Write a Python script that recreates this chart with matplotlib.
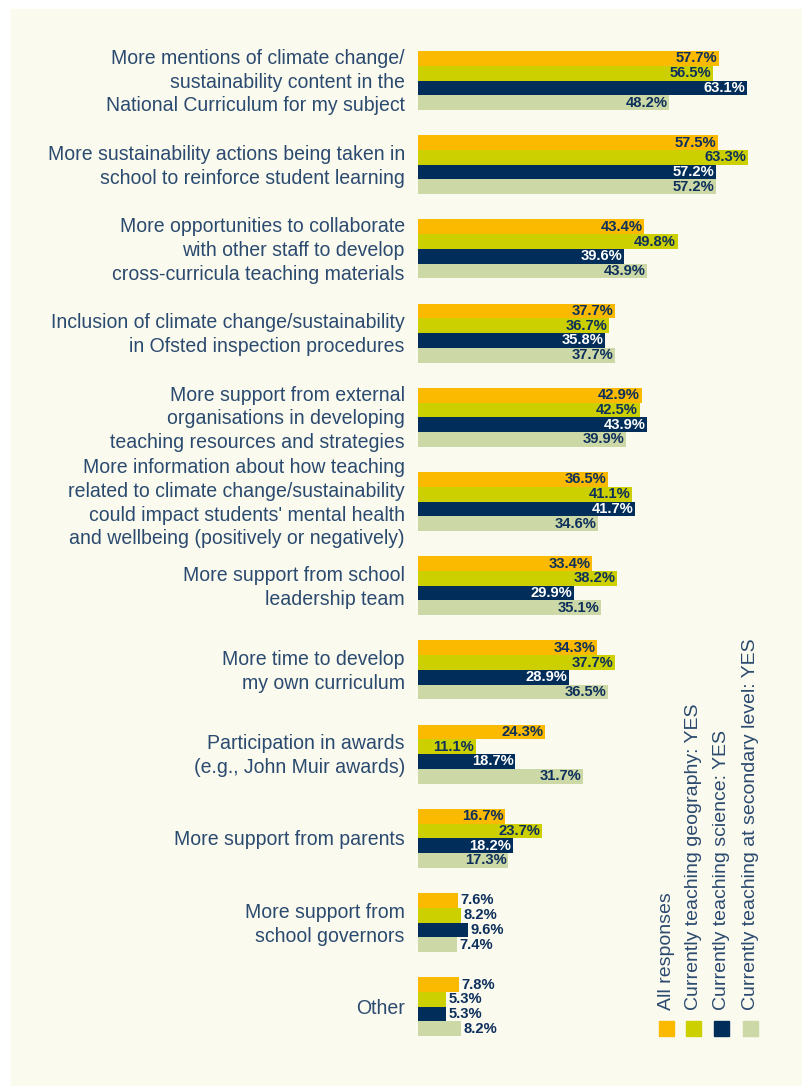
import matplotlib.pyplot as plt
from matplotlib.patches import Rectangle

categories = [
    'More mentions of climate change/\nsustainability content in the\nNational Curriculum for my subject',
    'More sustainability actions being taken in\nschool to reinforce student learning',
    'More opportunities to collaborate\nwith other staff to develop\ncross-curricula teaching materials',
    'Inclusion of climate change/sustainability\nin Ofsted inspection procedures',
    'More support from external\norganisations in developing\nteaching resources and strategies',
    'More information about how teaching\nrelated to climate change/sustainability\ncould impact students\' mental health\nand wellbeing (positively or negatively)',
    'More support from school\nleadership team',
    'More time to develop\nmy own curriculum',
    'Participation in awards\n(e.g., John Muir awards)',
    'More support from parents',
    'More support from\nschool governors',
    'Other',
]

series_names = [
    'All responses',
    'Currently teaching geography: YES',
    'Currently teaching science: YES',
    'Currently teaching at secondary level: YES',
]

all_responses = [57.7, 57.5, 43.4, 37.7, 42.9, 36.5, 33.4, 34.3, 24.3, 16.7, 7.6, 7.8]
geography = [56.5, 63.3, 49.8, 36.7, 42.5, 41.1, 38.2, 37.7, 11.1, 23.7, 8.2, 5.3]
science = [63.1, 57.2, 39.6, 35.8, 43.9, 41.7, 29.9, 28.9, 18.7, 18.2, 9.6, 5.3]
secondary = [48.2, 57.2, 43.9, 37.7, 39.9, 34.6, 35.1, 36.5, 31.7, 17.3, 7.4, 8.2]

colors = ['#fbba00', '#ccd000', '#002d5a', '#ccd8a5']
text_navy = '#0d2f5c'
label_col = '#2b4a6f'
bg = '#fafaee'

W, H = 802, 1086
fig = plt.figure(figsize=(W / 100, H / 100), dpi=100)
plt.rcParams['font.family'] = ['Liberation Sans', 'DejaVu Sans']
fig.patch.set_facecolor('white')
fig.patches.append(Rectangle((11 / W, 0), 1 - 11 / W, 1 - 9 / H,
                             transform=fig.transFigure, color=bg, zorder=-10))

# bar area: 0% at x=418px, 5.213 px per %, group pitch 84.2 px
px_per = 5.213
xmax = 70
pitch = 84.2
top_px = 80.5 - pitch / 2
bot_px = top_px + pitch * len(categories)
ax = fig.add_axes([418 / W, 1 - bot_px / H, xmax * px_per / W, (bot_px - top_px) / H])
ax.set_facecolor('none')
ax.set_xlim(0, xmax)
ax.set_ylim(len(categories) - 0.5, -0.5)

bar_h = 14.75 / pitch
data = [all_responses, geography, science, secondary]
for j, vals in enumerate(data):
    ys = [i + (j - 1.5) * bar_h for i in range(len(categories))]
    ax.barh(ys, vals, height=bar_h, color=colors[j], linewidth=0)
    for y, v in zip(ys, vals):
        if v >= 10:
            col = 'white' if j == 2 else text_navy
            ax.text(v - 0.3, y, f'{v:.1f}%', ha='right', va='center',
                    fontsize=10.6, fontweight='bold', color=col)
        else:
            ax.text(v + 0.5, y, f'{v:.1f}%', ha='left', va='center',
                    fontsize=10.6, fontweight='bold', color=text_navy)

# category labels, nudged slightly down to sit on the group centre
ax.set_yticks([i + 0.02 for i in range(len(categories))])
ax.set_yticklabels(categories, fontsize=14.05, color=label_col, linespacing=1.31, va='center')
ax.tick_params(axis='y', length=0, pad=9.5)
ax.set_xticks([])
for s in ax.spines.values():
    s.set_visible(False)

# legend, vertical text above small squares
leg_x = [666.5, 693.5, 721.5, 750.5]
for name, c, lx in zip(series_names, colors, leg_x):
    fig.patches.append(Rectangle(((lx - 7.5) / W, 1 - 1036 / H), 15 / W, 15 / H,
                                 transform=fig.transFigure, color=c))
    fig.text(lx / W, 1 - 1010 / H, name, rotation=90, ha='center', va='bottom',
             fontsize=14, color=label_col)

fig.savefig('out.png', dpi=100, facecolor=fig.get_facecolor())
